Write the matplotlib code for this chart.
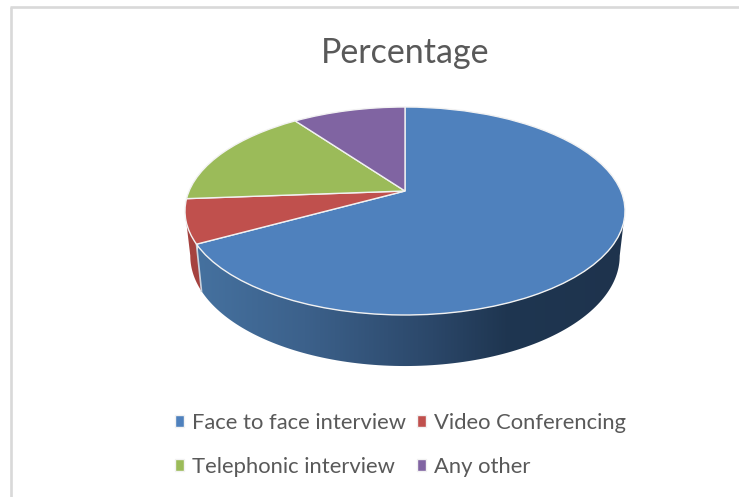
import numpy as np
import matplotlib
matplotlib.use("Agg")
import matplotlib.pyplot as plt
from matplotlib.colors import LinearSegmentedColormap
from matplotlib.patches import Polygon
from matplotlib.transforms import Transform

title = "Percentage"
labels = ["Face to face interview", "Video Conferencing", "Telephonic interview", "Any other"]
values = [67, 6.8, 16.2, 10]
colors = ["#4f81bd", "#c0504d", "#9bbb59", "#8064a2"]
text_color = "#595959"

plt.rcParams["font.family"] = ["Lato", "DejaVu Sans"]


class Tilt(Transform):
    # unit circle -> tilted disc, in pixel coordinates
    input_dims = 2
    output_dims = 2

    def __init__(self, cx, cy, a, b, k):
        super().__init__()
        self.cx, self.cy, self.a, self.b, self.k = cx, cy, a, b, k

    def transform_non_affine(self, values):
        xy = np.asarray(values, dtype=float)
        w = 1 + self.k * xy[:, 1]
        return np.column_stack([self.cx + self.a * xy[:, 0] / w, self.cy - self.b * xy[:, 1] / w])


top = Tilt(405, 191, 215.9, 100.15, 0.1923)
bottom = Tilt(405, 234.8, 210.7, 106.0, 0.1923)


def rim(disc, start, end):
    t = np.radians(np.linspace(start, end, 120))
    return disc.transform_non_affine(np.column_stack([np.cos(t), np.sin(t)]))


fig = plt.figure(figsize=(7.39, 4.97), dpi=100)
ax = fig.add_axes([0, 0, 1, 1])

# top face
wedges, _ = ax.pie(values, colors=colors, startangle=90, counterclock=False,
                   wedgeprops={"edgecolor": "#f2f2f2", "linewidth": 1.0, "zorder": 5})
for w in wedges:
    w.set_transform(top + ax.transData)
ax.set_aspect("auto")

# side wall, blue then red
blue_end = wedges[0].theta1
red_side = np.vstack([rim(top, blue_end, -169), rim(bottom, -169, blue_end)])
ax.add_patch(Polygon(red_side, closed=True, facecolor="#a5423f", edgecolor="none", zorder=2))

blue_side = np.vstack([rim(top, -11, blue_end), rim(bottom, blue_end, -11)])
clip = Polygon(blue_side, closed=True, facecolor="none", edgecolor="none", transform=ax.transData)
ax.add_patch(clip)
shade = LinearSegmentedColormap.from_list("side", [(0, "#45719f"), (0.25, "#3c618b"), (0.55, "#2b4769"),
                                                   (0.72, "#1f3651"), (1, "#1e334d")])
im = ax.imshow(np.linspace(0, 1, 256)[None, :], extent=[198, 625, 370, 200], cmap=shade,
               aspect="auto", zorder=3)
im.set_clip_path(clip)

edge = np.vstack([rim(top, blue_end, blue_end)[0], rim(bottom, blue_end, blue_end)[0]])
ax.plot(edge[:, 0], edge[:, 1], color="#c9d2dd", lw=1.2, zorder=4)

# frame of the chart area, open on the right and at the bottom
ax.plot([11.3, 11.3], [497, 7], color="#d9d9d9", lw=1.9, solid_capstyle="butt", zorder=1)
ax.plot([10.3, 739], [7, 7], color="#d9d9d9", lw=1.9, solid_capstyle="butt", zorder=1)

ax.text(405.5, 63, title, ha="center", va="baseline", fontsize=24.5, color=text_color)

order = [0, 2, 1, 3]
ax.legend([wedges[i] for i in order], [labels[i] for i in order], ncol=2, loc="lower left",
          bbox_to_anchor=(175, 477), bbox_transform=ax.transData, frameon=False, fontsize=15.8,
          labelcolor=text_color, handlelength=0.42, handleheight=0.42, handletextpad=0.36,
          columnspacing=0.5, labelspacing=1.1, borderpad=0, borderaxespad=0)

ax.set_xlim(0, 739)
ax.set_ylim(497, 0)
ax.axis("off")

plt.savefig("out.png", dpi=100)
